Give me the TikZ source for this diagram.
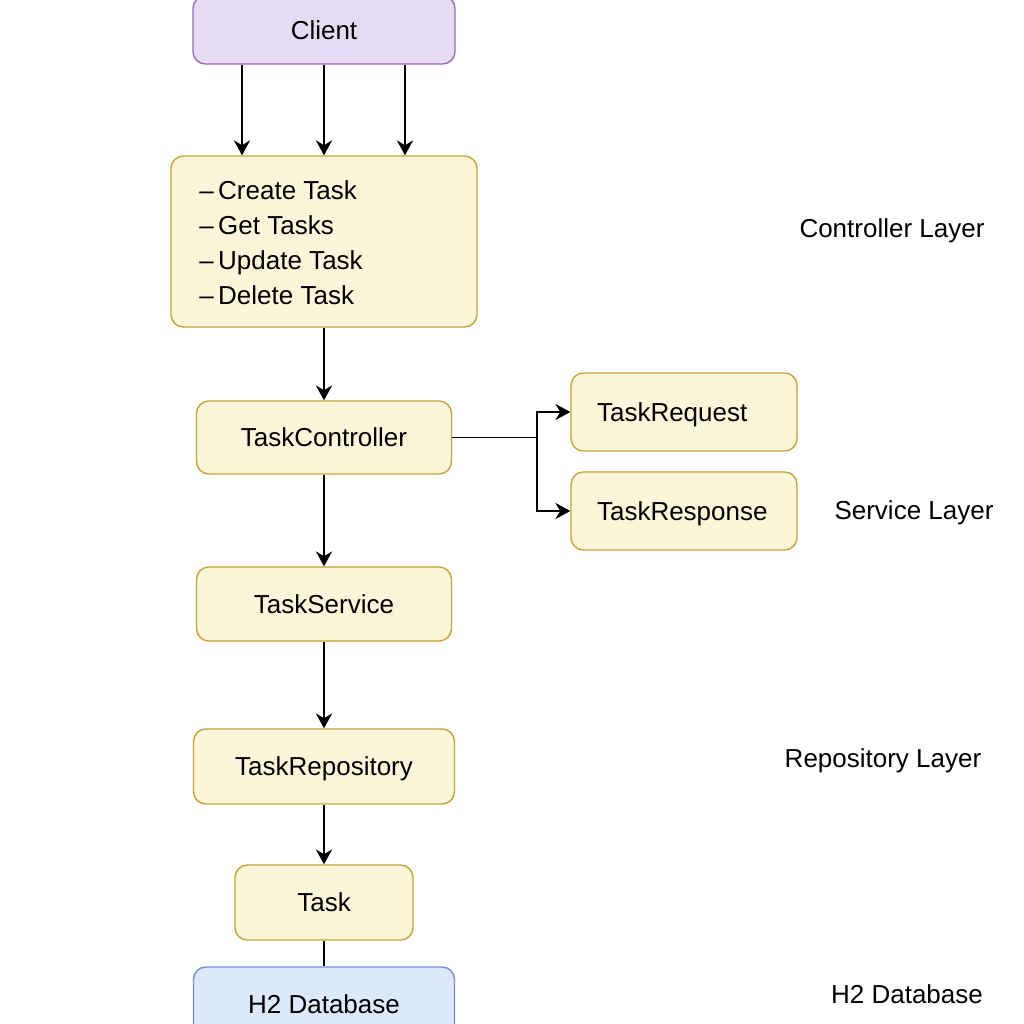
\documentclass[tikz,border=0pt]{standalone}
\usepackage{fontspec}
\setmainfont{Liberation Sans}
\usetikzlibrary{arrows.meta}
\definecolor{ylfill}{HTML}{FDF5DA}
\definecolor{yldraw}{HTML}{C4A43A}
\definecolor{pufill}{HTML}{E5DBF2}
\definecolor{pudraw}{HTML}{9A68BC}
\definecolor{blfill}{HTML}{DEE8FB}
\definecolor{bldraw}{HTML}{7092D8}
\tikzset{
  txt/.style={font=\fontsize{14.8}{19.8}\selectfont, text height=10.6pt, text depth=0pt},
  box/.style={txt, draw=yldraw, fill=ylfill, line width=0.8pt, rounded corners=7pt, inner sep=0pt},
  pubox/.style={box, draw=pudraw, fill=pufill},
  blbox/.style={box, draw=bldraw, fill=blfill},
  lefttext/.style={align=left, inner xsep=0.52cm, text width=3.48cm},
  lbl/.style={txt, inner sep=0pt},
  arr/.style={line width=1.15pt, -{Stealth[length=8.5pt,width=9.2pt,inset=2.8pt]}},
  ln/.style={line width=1.15pt}
}
\begin{document}
\begin{tikzpicture}[x=0.02cm, y=-0.02cm]
\useasboundingbox (0,0) rectangle (1024,1024);
\clip (0,0) rectangle (1024,1024);
\fill[white] (0,0) rectangle (1024,1024);

\node[pubox, minimum width=5.24cm, minimum height=1.36cm] (client) at (324,30) {Client};
\node[box, minimum width=6.12cm, minimum height=3.42cm] (ctrl) at (324,241.5) {};
\node[inner sep=0pt, anchor=west, align=left, font=\fontsize{14.8}{20}\selectfont] (ctrltext) at (199,242.5)
  {–\hspace{2.5pt}Create Task\\–\hspace{2.5pt}Get Tasks\\–\hspace{2.5pt}Update Task\\–\hspace{2.5pt}Delete Task};

\node[box, minimum width=5.1cm, minimum height=1.46cm] (tc) at (324,437.5) {TaskController};
\node[box, minimum height=1.56cm, lefttext] (treq) at (684,412) {TaskRequest};
\node[box, minimum height=1.56cm, lefttext] (tresp) at (684,511) {TaskResponse};
\node[box, minimum width=5.1cm, minimum height=1.48cm] (ts) at (324,604) {TaskService};
\node[box, minimum width=5.22cm, minimum height=1.5cm] (trepo) at (324,766.5) {TaskRepository};
\node[box, minimum width=3.56cm, minimum height=1.5cm] (task) at (324,902.5) {Task};
\node[blbox, minimum width=5.22cm, minimum height=1.48cm] (h2) at (324,1004) {H2 Database};

\node[lbl] (lctrl) at (892,228) {Controller Layer};
\node[lbl] (lserv) at (914,510) {Service Layer};
\node[lbl] (lrepo) at (883,758) {Repository Layer};
\node[lbl] (lh2) at (907,994) {H2 Database};

\draw[arr] ([xshift=-1.64cm]client.south) -- ([xshift=-1.64cm]ctrl.north);
\draw[arr] (client.south) -- (ctrl.north);
\draw[arr] ([xshift=1.62cm]client.south) -- ([xshift=1.62cm]ctrl.north);
\draw[arr] (ctrl.south) -- (tc.north);
\draw[ln, line width=0.9pt] (tc.east) -- ++(85,0) coordinate (br);
\draw[arr] (br) |- (treq.west);
\draw[arr] (br) |- (tresp.west);
\draw[arr] (tc.south) -- (ts.north);
\draw[arr] (ts.south) -- (trepo.north);
\draw[arr] (trepo.south) -- (task.north);
\draw[ln] (task.south) -- (h2.north);
\end{tikzpicture}
\end{document}
